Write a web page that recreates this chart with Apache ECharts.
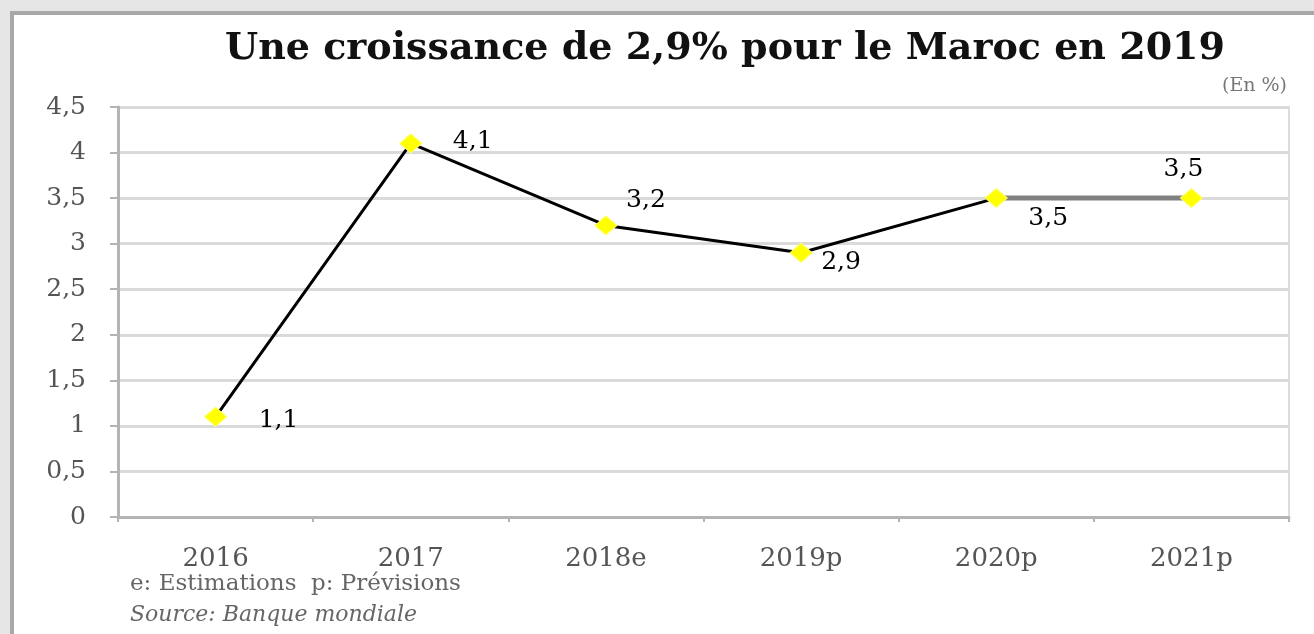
<!DOCTYPE html>
<html>
<head>
<meta charset="utf-8">
<script src="https://cdn.jsdelivr.net/npm/echarts@6/dist/echarts.min.js"></script>
<style>
  html, body { margin: 0; padding: 0; width: 1314px; height: 634px; overflow: hidden; background: #e6e6e6; }
  #frame { position: absolute; left: 10px; top: 11px; width: 1304px; height: 623px; background: #ffffff;
           border-left: 4px solid #a8a8a8; border-top: 4px solid #a8a8a8; box-sizing: border-box; }
  #chart { position: absolute; left: 0; top: 0; width: 1314px; height: 634px; }
</style>
</head>
<body>
<div id="frame"></div>
<div id="chart"></div>
<script>
const categories = ['2016', '2017', '2018e', '2019p', '2020p', '2021p'];
const values = [1.1, 4.1, 3.2, 2.9, 3.5, 3.5];
const yTicks = { min: 0, max: 4.5, interval: 0.5 };
const titleText = 'Une croissance de 2,9% pour le Maroc en 2019';
const unitText = '(En %)';
const noteText = 'e: Estimations  p: Prévisions';
const sourceText = 'Source: Banque mondiale';

// label offsets (styling only)
const labelOffsets = [[63, 4], [62, -2], [40, -25], [40, 10], [52, 20], [-8, -29]];

const serif = '"DejaVu Serif", "Liberation Serif", serif';
const chart = echarts.init(document.getElementById('chart'), null, { renderer: 'canvas' });

const blackPart = values.map((v, i) => (i <= 4 ? v : null));
const grayPart = values.map((v, i) => (i >= 4 ? v : null));

chart.setOption({
  backgroundColor: 'transparent',
  animation: false,
  title: {
    text: titleText,
    left: 220, top: 25,
    textStyle: { fontFamily: serif, fontWeight: 'bold', fontSize: 38, color: '#111' }
  },
  graphic: [
    { type: 'text', right: 27, top: 77, style: { text: unitText, font: '19px ' + serif, fill: '#777' } },
    { type: 'text', left: 130, top: 573, style: { text: noteText, font: '23px ' + serif, fill: '#666' } },
    { type: 'text', left: 130, top: 604, style: { text: sourceText, font: 'italic 22px ' + serif, fill: '#666' } }
  ],
  grid: { left: 118, right: 25, top: 107, bottom: 117, containLabel: false },
  xAxis: {
    type: 'category',
    data: categories,
    boundaryGap: true,
    axisLine: { lineStyle: { color: '#b4b4b4', width: 3 } },
    axisTick: { show: true, alignWithLabel: false, interval: 0, length: 5, lineStyle: { color: '#b4b4b4', width: 2 } },
    axisLabel: { margin: 29, fontFamily: serif, fontSize: 26, color: '#555' },
    splitLine: { show: false }
  },
  yAxis: [{
    type: 'value',
    min: yTicks.min, max: yTicks.max, interval: yTicks.interval,
    axisLine: { show: true, lineStyle: { color: '#b4b4b4', width: 3 } },
    axisTick: { show: true, length: 8, lineStyle: { color: '#b4b4b4', width: 2 } },
    axisLabel: { margin: 32, fontFamily: serif, fontSize: 25, color: '#555',
                 formatter: v => String(v).replace('.', ',') },
    splitLine: { show: true, lineStyle: { color: '#dadada', width: 3 } }
  }, {
    type: 'value', position: 'right',
    min: yTicks.min, max: yTicks.max, interval: yTicks.interval,
    axisLine: { show: true, lineStyle: { color: '#dcdcdc', width: 2 } },
    axisTick: { show: false }, axisLabel: { show: false }, splitLine: { show: false }
  }],
  series: [
    {
      type: 'line', data: blackPart, showSymbol: false, connectNulls: false,
      lineStyle: { color: '#000', width: 3 }, z: 2
    },
    {
      type: 'line', data: grayPart, showSymbol: false, connectNulls: false,
      lineStyle: { color: '#808080', width: 5 }, z: 2
    },
    {
      type: 'line',
      data: values.map((v, i) => ({
        value: v,
        label: { offset: labelOffsets[i] }
      })),
      lineStyle: { width: 0, opacity: 0 },
      symbol: 'diamond', symbolSize: [22, 19],
      itemStyle: { color: '#ffff00', borderColor: '#ffff66', borderWidth: 1 },
      label: {
        show: true, position: 'inside', align: 'center', verticalAlign: 'middle',
        fontFamily: serif, fontSize: 25, color: '#000',
        formatter: p => String(p.value).replace('.', ',')
      },
      z: 3
    }
  ]
});
</script>
</body>
</html>
